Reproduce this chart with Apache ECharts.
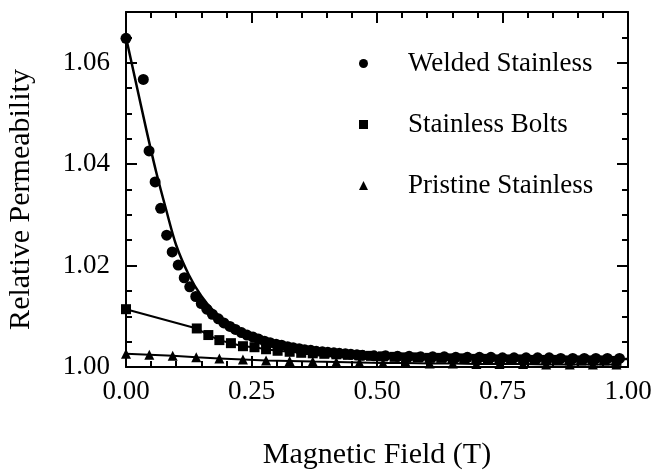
<!DOCTYPE html>
<html>
<head>
<meta charset="utf-8">
<script src="https://cdn.jsdelivr.net/npm/echarts@6/dist/echarts.min.js"></script>
<style>html,body{margin:0;padding:0;background:#fff;}#c{width:653px;height:470px;}</style>
</head>
<body>
<div id="c"></div>
<script>
// ---- data ----
const seriesNames = ['Welded Stainless', 'Stainless Bolts', 'Pristine Stainless'];

const weldedField = [0, 0.0345, 0.046, 0.058, 0.069, 0.081, 0.092, 0.104, 0.116, 0.127, 0.139, 0.150, 0.161, 0.172, 0.184, 0.195, 0.207, 0.218, 0.230, 0.241, 0.253, 0.264, 0.276, 0.287, 0.299, 0.310, 0.322, 0.333, 0.345, 0.356, 0.368, 0.379, 0.391, 0.402, 0.414, 0.425, 0.437, 0.448, 0.460, 0.471, 0.494, 0.517, 0.541, 0.564, 0.587, 0.611, 0.634, 0.657, 0.680, 0.704, 0.727, 0.750, 0.773, 0.797, 0.820, 0.843, 0.866, 0.890, 0.913, 0.936, 0.959, 0.983];
const weldedPerm = [1.0648, 1.0567, 1.0426, 1.0365, 1.0313, 1.0260, 1.0227, 1.0201, 1.0176, 1.0158, 1.0139, 1.0125, 1.0114, 1.0104, 1.0095, 1.0087, 1.0080, 1.0074, 1.0068, 1.0063, 1.0059, 1.0055, 1.0051, 1.0048, 1.0045, 1.0043, 1.0040, 1.0038, 1.0036, 1.0034, 1.0033, 1.0031, 1.0030, 1.0029, 1.0028, 1.0027, 1.0026, 1.0025, 1.0024, 1.0023, 1.0022, 1.0022, 1.0021, 1.0021, 1.0020, 1.0020, 1.0020, 1.0019, 1.0019, 1.0019, 1.0019, 1.0018, 1.0018, 1.0018, 1.0018, 1.0018, 1.0017, 1.0017, 1.0017, 1.0017, 1.0017, 1.0017];

const weldedFitField = [0, 0.02, 0.04, 0.06, 0.08, 0.10, 0.125, 0.15, 0.175, 0.20, 0.25, 0.30, 0.35, 0.40, 0.50, 0.60, 0.70, 0.80, 0.90, 1.00];
const weldedFitPerm = [1.0650, 1.0560, 1.0470, 1.0385, 1.0310, 1.0240, 1.0182, 1.0140, 1.0110, 1.0090, 1.0062, 1.0047, 1.0037, 1.0030, 1.0023, 1.0020, 1.0018, 1.0017, 1.0016, 1.0016];

const boltsField = [0, 0.141, 0.164, 0.186, 0.209, 0.233, 0.256, 0.279, 0.302, 0.326, 0.349, 0.372, 0.395, 0.419, 0.442, 0.465, 0.488, 0.512, 0.535, 0.558, 0.581, 0.605, 0.628, 0.651, 0.674, 0.698, 0.721, 0.744, 0.767, 0.791, 0.814, 0.837, 0.860, 0.884, 0.907, 0.930, 0.953, 0.977];
const boltsPerm = [1.0114, 1.0076, 1.0063, 1.0053, 1.0047, 1.0041, 1.0039, 1.0035, 1.0032, 1.0030, 1.0028, 1.0027, 1.0026, 1.0025, 1.0024, 1.0023, 1.0022, 1.0021, 1.0020, 1.0019, 1.0019, 1.0018, 1.0018, 1.0017, 1.0017, 1.0016, 1.0016, 1.0015, 1.0015, 1.0015, 1.0014, 1.0014, 1.0014, 1.0013, 1.0013, 1.0013, 1.0013, 1.0012];

const pristineField = [0, 0.0465, 0.093, 0.140, 0.186, 0.233, 0.279, 0.326, 0.372, 0.419, 0.465, 0.512, 0.558, 0.605, 0.651, 0.698, 0.744, 0.791, 0.837, 0.884, 0.930, 0.977];
const pristinePerm = [1.0026, 1.0024, 1.0022, 1.0019, 1.0017, 1.0015, 1.0013, 1.0012, 1.0011, 1.0010, 1.0009, 1.0008, 1.0008, 1.0007, 1.0007, 1.0006, 1.0006, 1.0006, 1.0005, 1.0005, 1.0005, 1.0005];

const xTickValues = [0, 0.25, 0.5, 0.75, 1.0];
const yTickValues = [1.00, 1.02, 1.04, 1.06];
const xTitle = 'Magnetic Field (T)';
const yTitle = 'Relative Permeability';

// ---- build ----
const zip = (xs, ys) => xs.map((x, i) => [x, ys[i]]);
const FONT = 'Liberation Serif';
const BLACK = '#000';

const xMin = xTickValues[0], xMax = xTickValues[xTickValues.length - 1];
const xInt = xTickValues[1] - xTickValues[0];
const yMin = yTickValues[0], yInt = yTickValues[1] - yTickValues[0];
const yMax = 1.07;

function xAxisDef(pos, withLabels) {
  return {
    type: 'value', position: pos, min: xMin, max: xMax, interval: xInt,
    axisLine: { show: true, onZero: false, lineStyle: { color: BLACK, width: 2 } },
    axisTick: { show: true, inside: true, length: 11, lineStyle: { color: BLACK, width: 2 } },
    minorTick: { show: true, splitNumber: 5, length: 6, lineStyle: { color: BLACK, width: 2 } },
    splitLine: { show: false },
    axisLabel: withLabels ? { show: true, margin: 11, fontFamily: FONT, fontSize: 27, color: BLACK,
      formatter: v => v.toFixed(2) } : { show: false },
    name: withLabels ? xTitle : '',
    nameLocation: 'middle', nameGap: 73,
    nameTextStyle: { fontFamily: FONT, fontSize: 30, color: BLACK }
  };
}
function yAxisDef(pos, major, withLabels) {
  return {
    type: 'value', position: pos, min: yMin, max: yMax, interval: major ? yInt : 0.005,
    axisLine: { show: major, onZero: false, lineStyle: { color: BLACK, width: 2 } },
    axisTick: { show: true, inside: true, length: major ? 11 : 6, lineStyle: { color: BLACK, width: 2 } },
    splitLine: { show: false },
    axisLabel: withLabels ? { show: true, margin: 16, fontFamily: FONT, fontSize: 27, color: BLACK,
      showMaxLabel: false, formatter: v => (Math.abs(v - yMax) < 1e-9 ? '' : v.toFixed(2)) } : { show: false },
    name: withLabels ? yTitle : '',
    nameLocation: 'middle', nameGap: 90, nameRotate: 90,
    nameTextStyle: { fontFamily: FONT, fontSize: 30, color: BLACK, padding: [0, 20, 0, 0] }
  };
}

const option = {
  animation: false,
  backgroundColor: '#fff',
  grid: { left: 126, right: 25, top: 12, bottom: 103, containLabel: false, outerBoundsMode: 'none' },
  xAxis: [xAxisDef('bottom', true), xAxisDef('top', false)],
  yAxis: [yAxisDef('left', true, true), yAxisDef('left', false, false), yAxisDef('right', true, false), yAxisDef('right', false, false)],
  legend: {
    orient: 'vertical', left: 354, top: 45, itemWidth: 9, itemHeight: 9, itemGap: 34,
    selectedMode: false,
    textStyle: { fontFamily: FONT, fontSize: 27, color: BLACK, padding: [0, 0, 0, 35] },
    data: [
      { name: seriesNames[0], icon: 'circle' },
      { name: seriesNames[1], icon: 'rect' },
      { name: seriesNames[2], icon: 'triangle' }
    ]
  },
  series: [
    { name: 'fit', type: 'line', smooth: 0.3, showSymbol: false, symbol: 'none',
      data: zip(weldedFitField, weldedFitPerm), lineStyle: { color: BLACK, width: 2.5 }, z: 2 },
    { name: seriesNames[0], type: 'scatter', symbol: 'circle', symbolSize: 11,
      data: zip(weldedField, weldedPerm), itemStyle: { color: BLACK, opacity: 1 }, z: 3 },
    { name: seriesNames[1], type: 'line', symbol: 'rect', symbolSize: 10, showAllSymbol: true,
      data: zip(boltsField, boltsPerm), itemStyle: { color: BLACK, opacity: 1 }, lineStyle: { color: BLACK, width: 2 }, z: 2 },
    { name: seriesNames[2], type: 'line', symbol: 'triangle', symbolSize: 10, showAllSymbol: true,
      data: zip(pristineField, pristinePerm), itemStyle: { color: BLACK, opacity: 1 }, lineStyle: { color: BLACK, width: 2 }, z: 2 }
  ]
};

const chart = echarts.init(document.getElementById('c'), null, { renderer: 'canvas' });
chart.setOption(option);
</script>
</body>
</html>
